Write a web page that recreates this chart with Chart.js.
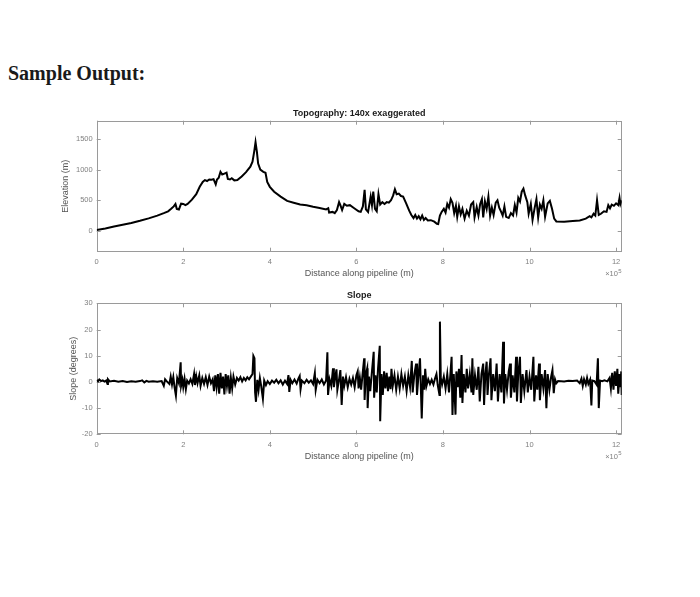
<!DOCTYPE html>
<html>
<head>
<meta charset="utf-8">
<script src="https://cdn.jsdelivr.net/npm/chart.js@4.4.1/dist/chart.umd.min.js"></script>
<style>
  body { margin: 0; background: #fff; width: 700px; height: 597px; position: relative; overflow: hidden; }
  .heading { position: absolute; left: 8px; top: 63px; font: bold 20px/20px "Liberation Serif", "Times New Roman", serif; color: #1a1a1a; }
  canvas { position: absolute; left: 0; }
</style>
</head>
<body>
<div class="heading">Sample Output:</div>
<canvas id="topoChart" width="700" height="190" style="top:95px"></canvas>
<canvas id="slopeChart" width="700" height="190" style="top:285px"></canvas>
<script>
// distance values are in units of 10^5 m (axis shows the x10^5 multiplier)
const distTicks = [0, 2, 4, 6, 8, 10, 12];
const elevTicks = [0, 500, 1000, 1500];
const slopeTicks = [-20, -10, 0, 10, 20, 30];

const topoDist = [0, 0.2, 0.4, 0.6, 0.8, 1.0, 1.2, 1.4, 1.55, 1.65, 1.72, 1.78, 1.82, 1.85, 1.9, 1.95, 2.0, 2.05, 2.1, 2.2,
  2.3, 2.38, 2.45, 2.5, 2.55, 2.6, 2.65, 2.7, 2.75, 2.78, 2.82, 2.86, 2.9, 2.95, 3.0, 3.03, 3.08, 3.12, 3.18, 3.25,
  3.35, 3.45, 3.55, 3.6, 3.64, 3.67, 3.7, 3.73, 3.78, 3.85, 3.9, 3.94, 4.0, 4.1, 4.25, 4.4, 4.55, 4.7, 4.85, 5.0,
  5.15, 5.3, 5.35, 5.37, 5.45, 5.5, 5.55, 5.6, 5.63, 5.67, 5.72, 5.78, 5.85, 5.95, 6.05, 6.1, 6.15, 6.19, 6.22, 6.27,
  6.33, 6.36, 6.39, 6.43, 6.47, 6.51, 6.55, 6.6, 6.65, 6.7, 6.75, 6.8, 6.85, 6.89, 6.93, 6.98, 7.03, 7.08, 7.15, 7.22,
  7.27, 7.32, 7.36, 7.4, 7.44, 7.48, 7.52, 7.56, 7.6, 7.65, 7.72, 7.8, 7.86, 7.89, 7.93, 7.97, 8.02, 8.06, 8.1, 8.14,
  8.18, 8.22, 8.26, 8.3, 8.33, 8.37, 8.41, 8.45, 8.5, 8.55, 8.6, 8.65, 8.7, 8.73, 8.78, 8.82, 8.86, 8.9, 8.93, 8.97,
  9.01, 9.05, 9.09, 9.13, 9.17, 9.22, 9.26, 9.3, 9.34, 9.38, 9.42, 9.46, 9.52, 9.57, 9.62, 9.66, 9.7, 9.74, 9.78, 9.82,
  9.86, 9.9, 9.95, 9.98, 10.03, 10.07, 10.12, 10.16, 10.2, 10.24, 10.28, 10.32, 10.36, 10.42, 10.47, 10.52, 10.57, 10.62, 10.8, 11.0,
  11.16, 11.3, 11.39, 11.43, 11.48, 11.52, 11.56, 11.6, 11.65, 11.72, 11.78, 11.82, 11.86, 11.9, 11.95, 12.0, 12.05, 12.08, 12.1, 12.13];
const topoElev = [15, 40, 70, 100, 130, 165, 205, 250, 290, 320, 360, 400, 440, 360, 350, 445, 440, 420, 440, 510,
  600, 720, 800, 830, 815, 840, 835, 845, 760, 840, 870, 965, 920, 935, 950, 850, 840, 860, 825, 830,
  890, 960, 1050, 1130, 1300, 1450, 1300, 1100, 1000, 965, 950, 800, 720, 640, 560, 490, 460, 430, 420, 395,
  375, 350, 370, 300, 310, 290, 340, 470, 420, 340, 440, 410, 420, 370, 320, 310, 400, 670, 350, 310,
  560, 420, 640, 360, 320, 600, 430, 470, 440, 470, 460, 500, 580, 680, 600, 610, 570, 560, 450, 330,
  260, 210, 260, 200, 240, 190, 250, 180, 210, 170, 175, 150, 115, 110, 250, 310, 360, 300, 440, 380,
  520, 460, 290, 410, 230, 400, 270, 360, 200, 330, 250, 430, 470, 220, 390, 250, 440, 520, 220, 480,
  360, 560, 250, 380, 260, 460, 500, 380, 320, 250, 400, 230, 210, 290, 250, 420, 300, 540, 480, 640,
  690, 580, 470, 280, 440, 180, 380, 520, 220, 430, 360, 500, 230, 450, 490, 360, 200, 155, 150, 160,
  170, 200, 240, 220, 280, 250, 500, 260, 280, 320, 310, 420, 370, 430, 410, 450, 420, 540, 440, 500];

const slopeDist = [0, 0.03, 0.06, 0.1, 0.14, 0.18, 0.22, 0.25, 0.26, 0.3, 0.4, 0.5, 0.6, 0.7, 0.8, 0.9, 1.0, 1.05, 1.1, 1.15,
  1.2, 1.3, 1.4, 1.5, 1.55, 1.58, 1.62, 1.68, 1.71, 1.74, 1.77, 1.8, 1.83, 1.86, 1.9, 1.94, 1.95, 1.98, 2.0, 2.03,
  2.06, 2.09, 2.13, 2.17, 2.21, 2.25, 2.27, 2.3, 2.33, 2.37, 2.4, 2.44, 2.48, 2.52, 2.56, 2.6, 2.64, 2.68, 2.71, 2.74,
  2.77, 2.8, 2.83, 2.86, 2.89, 2.92, 2.95, 2.98, 3.01, 3.04, 3.07, 3.1, 3.13, 3.16, 3.2, 3.24, 3.28, 3.32, 3.36, 3.4,
  3.44, 3.48, 3.52, 3.56, 3.6, 3.62, 3.645, 3.66, 3.68, 3.71, 3.74, 3.77, 3.8, 3.84, 3.87, 3.91, 3.95, 4.0, 4.05, 4.1,
  4.15, 4.2, 4.25, 4.3, 4.35, 4.4, 4.43, 4.45, 4.48, 4.52, 4.57, 4.62, 4.66, 4.69, 4.71, 4.74, 4.8, 4.85, 4.9, 4.95,
  5.0, 5.04, 5.06, 5.1, 5.15, 5.2, 5.25, 5.3, 5.33, 5.345, 5.38, 5.42, 5.46, 5.48, 5.51, 5.54, 5.56, 5.6, 5.63, 5.66,
  5.69, 5.72, 5.76, 5.8, 5.84, 5.88, 5.92, 5.96, 6.0, 6.03, 6.05, 6.08, 6.11, 6.14, 6.18, 6.19, 6.22, 6.25, 6.26, 6.29,
  6.32, 6.36, 6.4, 6.41, 6.44, 6.47, 6.5, 6.54, 6.55, 6.58, 6.61, 6.64, 6.67, 6.7, 6.73, 6.76, 6.79, 6.81, 6.84, 6.88,
  6.92, 6.96, 7.0, 7.04, 7.08, 7.12, 7.16, 7.2, 7.24, 7.28, 7.3, 7.34, 7.38, 7.4, 7.44, 7.47, 7.51, 7.54, 7.57, 7.59,
  7.62, 7.66, 7.7, 7.74, 7.78, 7.82, 7.85, 7.88, 7.92, 7.93, 7.95, 7.98, 8.02, 8.06, 8.1, 8.14, 8.17, 8.2, 8.22, 8.25,
  8.29, 8.31, 8.34, 8.37, 8.4, 8.43, 8.45, 8.48, 8.52, 8.55, 8.58, 8.62, 8.66, 8.68, 8.7, 8.74, 8.78, 8.82, 8.85, 8.89,
  8.93, 8.95, 8.98, 9.01, 9.03, 9.06, 9.1, 9.12, 9.16, 9.2, 9.24, 9.27, 9.31, 9.35, 9.39, 9.41, 9.44, 9.48, 9.52, 9.55,
  9.57, 9.61, 9.65, 9.69, 9.71, 9.74, 9.78, 9.8, 9.84, 9.88, 9.93, 9.96, 10.0, 10.04, 10.09, 10.11, 10.15, 10.18, 10.22, 10.24,
  10.28, 10.32, 10.36, 10.39, 10.42, 10.46, 10.5, 10.53, 10.56, 10.59, 10.62, 10.66, 10.8, 10.9, 11.0, 11.1, 11.16, 11.2, 11.23, 11.26,
  11.3, 11.33, 11.36, 11.4, 11.43, 11.45, 11.5, 11.55, 11.58, 11.6, 11.63, 11.68, 11.73, 11.8, 11.85, 11.88, 11.91, 11.94, 11.97, 12.0,
  12.03, 12.05, 12.08, 12.1, 12.12, 12.13];
const slopeDeg = [0.8, 0.2, 0.9, 0.3, 0.6, 0.1, 0.5, -0.8, 1.0, 0.2, 0.4, 0.1, 0.3, 0.0, 0.2, 0.1, 0.3, 0.6, -0.2, 0.4,
  0.1, 0.2, 0.1, 0.3, -1.5, 1.0, 0.2, -0.8, 2.0, -1.0, 1.8, -2.2, -5.2, 1.5, -0.5, 7.5, -1.5, 0.8, -2.0, 1.2,
  -2.8, 0.5, -0.6, 1.0, -0.8, 3.0, -1.2, 2.2, -0.5, 2.5, -1.5, 1.5, -0.8, 1.8, -1.2, 2.0, -0.5, 1.0, -3.5, 2.5,
  -2.0, 3.0, -4.5, 3.5, -2.5, 2.0, -4.8, 3.0, -1.5, 2.5, -4.5, 1.5, -2.5, 2.0, -1.0, 1.5, 0.5, 1.8, 0.2, 1.5,
  0.6, 1.8, 1.0, 2.0, 3.0, 9.9, 9.0, -4.0, -7.6, 0.8, -3.0, 1.5, -1.5, -6.4, 0.5, -1.2, 0.3, -0.8, 0.5, -0.3,
  0.8, -0.5, 0.6, -1.0, 0.5, -0.8, 2.6, -3.8, 0.8, -0.5, 0.9, -0.6, 1.2, 2.2, -2.8, 0.5, -0.5, 0.8, -0.3, 0.6,
  -0.8, 3.3, -3.0, 0.8, -0.5, 0.9, -1.0, 0.5, 11.3, -5.0, 1.0, -1.5, 5.2, -2.0, 1.5, 4.8, -3.0, 1.0, 4.5, -8.8,
  2.0, -1.5, 1.8, -2.0, 1.2, -1.0, 1.5, -2.0, 2.5, 4.0, -2.5, 1.5, -3.0, 2.5, 9.0, -6.9, 3.0, 5.2, -10.0, 2.0,
  -3.5, 4.0, 11.5, -6.0, 2.5, -4.0, 5.0, 13.8, -15.0, 3.0, -5.0, 4.0, -2.5, 3.5, -3.5, 2.0, -2.8, 5.0, -1.5, 2.5,
  -3.0, 2.0, -2.5, 3.0, -1.5, 2.0, -3.5, 2.5, -2.0, 8.0, -4.0, 3.0, 7.0, -5.0, 3.5, 9.0, -14.0, 2.5, -3.0, 5.0,
  -1.5, 1.0, -0.8, 0.8, -1.0, 1.5, 3.0, -1.2, -5.0, 23.0, 1.5, -1.0, 2.0, -2.5, 3.0, -4.0, 2.5, 9.6, -12.6, 3.0,
  -12.5, 4.0, -2.0, 5.0, -6.0, 10.3, -8.0, 3.0, -4.0, 5.0, -2.5, 3.0, -4.0, 9.0, -5.0, 2.5, -3.0, 5.8, -7.5, 3.0,
  7.0, -8.8, 3.0, 7.7, -5.0, 2.5, 9.0, -7.0, 3.0, -3.5, 7.0, -7.5, 3.0, -4.0, 15.3, -8.2, 3.0, -3.0, 4.0, 7.0,
  -6.0, 2.5, -4.0, 9.6, -7.5, 3.0, 9.6, -8.0, 3.0, -3.5, 4.5, -4.0, 2.0, -3.0, 9.6, -7.5, 2.5, -3.0, 7.0, -7.0,
  3.0, -2.5, 4.5, -10.0, 3.0, -3.0, 2.0, 4.5, -4.3, 1.0, -0.5, 0.3, 0.2, 0.4, 0.3, 0.5, -0.5, 1.2, -1.5, 1.0,
  -1.0, 1.5, -0.8, 0.8, -9.0, 0.5, 0.3, -1.0, 9.0, -10.0, 0.5, 0.3, 0.6, 0.2, 1.5, -2.5, 3.5, -3.0, 4.0, -1.5,
  5.0, -4.5, 3.0, -2.0, 4.0, -5.0];

const FONT = '"Liberation Sans", Arial, sans-serif';

// MATLAB-like box: thin grey frame with inward ticks on all four sides, plus title and x10^5 note
const matlabBox = {
  id: 'matlabBox',
  beforeDatasetsDraw(chart) {
    const { ctx, chartArea: a, scales: { x, y } } = chart;
    const len = 4;
    ctx.save();
    ctx.strokeStyle = '#9a9a9a';
    ctx.lineWidth = 1;
    ctx.strokeRect(Math.round(a.left) + 0.5, Math.round(a.top) + 0.5, Math.round(a.width) - 1, Math.round(a.height) - 1);
    ctx.beginPath();
    x.ticks.forEach(t => {
      const px = Math.round(x.getPixelForValue(t.value)) + 0.5;
      ctx.moveTo(px, a.bottom); ctx.lineTo(px, a.bottom - len);
      ctx.moveTo(px, a.top); ctx.lineTo(px, a.top + len);
    });
    y.ticks.forEach(t => {
      const py = Math.round(y.getPixelForValue(t.value)) + 0.5;
      ctx.moveTo(a.left, py); ctx.lineTo(a.left + len, py);
      ctx.moveTo(a.right, py); ctx.lineTo(a.right - len, py);
    });
    ctx.stroke();
    ctx.restore();
  },
  afterDraw(chart, args, opts) {
    const { ctx, chartArea: a } = chart;
    ctx.save();
    ctx.fillStyle = '#1a1a1a';
    ctx.font = 'bold 9px ' + FONT;
    ctx.textAlign = 'center';
    ctx.textBaseline = 'middle';
    ctx.fillText(opts.title, (a.left + a.right) / 2, a.top - 7.5);

    ctx.fillStyle = '#808080';
    ctx.textAlign = 'right';
    ctx.font = '6px ' + FONT;
    ctx.fillText('5', a.right, a.bottom + 19.5);
    const w5 = ctx.measureText('5').width;
    ctx.font = '7.5px ' + FONT;
    ctx.fillText('\u00d710', a.right - w5 - 0.5, a.bottom + 22.5);
    ctx.restore();
  }
};

function xScale(axisHeight) {
  return {
    type: 'linear',
    min: 0,
    max: 12.13,
    grid: { display: false, drawTicks: false },
    border: { display: false },
    afterBuildTicks: s => { s.ticks = distTicks.map(v => ({ value: v })); },
    afterFit: s => { s.height = axisHeight; },
    ticks: { color: '#808080', font: { size: 7.5, family: FONT }, padding: 6, maxRotation: 0, autoSkip: false, callback: v => String(v) },
    title: { display: true, text: 'Distance along pipeline (m)', color: '#555', font: { size: 9, family: FONT }, padding: 0 }
  };
}

function yScale(min, max, ticks, label, axisWidth, titlePad) {
  return {
    min: min,
    max: max,
    grid: { display: false, drawTicks: false },
    border: { display: false },
    afterBuildTicks: s => { s.ticks = ticks.map(v => ({ value: v })); },
    afterFit: s => { s.width = axisWidth; },
    ticks: { color: '#808080', font: { size: 7.5, family: FONT }, padding: 4, callback: v => String(v) },
    title: { display: true, text: label, color: '#555', font: { size: 9, family: FONT }, padding: { top: titlePad, bottom: 0 } }
  };
}

new Chart(document.getElementById('topoChart'), {
  type: 'line',
  data: {
    datasets: [{
      data: topoDist.map((d, i) => ({ x: d, y: topoElev[i] })),
      borderColor: '#000',
      borderWidth: 2,
      pointRadius: 0,
      tension: 0
    }]
  },
  options: {
    responsive: false,
    animation: false,
    devicePixelRatio: 1,
    layout: { padding: { left: 55.7, right: 78.3, top: 25.7, bottom: 6.3 } },
    scales: {
      x: xScale(27),
      y: yScale(-340, 1800, elevTicks, 'Elevation (m)', 41, 4.6)
    },
    plugins: {
      legend: { display: false },
      tooltip: { enabled: false },
      matlabBox: { title: 'Topography: 140x exaggerated' }
    }
  },
  plugins: [matlabBox]
});

new Chart(document.getElementById('slopeChart'), {
  type: 'line',
  data: {
    datasets: [{
      data: slopeDist.map((d, i) => ({ x: d, y: slopeDeg[i] })),
      borderColor: '#000',
      borderWidth: 2,
      pointRadius: 0,
      tension: 0
    }]
  },
  options: {
    responsive: false,
    animation: false,
    devicePixelRatio: 1,
    layout: { padding: { left: 62.7, right: 78.3, top: 18.3, bottom: 12.7 } },
    scales: {
      x: xScale(28),
      y: yScale(-20, 30, slopeTicks, 'Slope (degrees)', 34, 5)
    },
    plugins: {
      legend: { display: false },
      tooltip: { enabled: false },
      matlabBox: { title: 'Slope' }
    }
  },
  plugins: [matlabBox]
});
</script>
</body>
</html>
